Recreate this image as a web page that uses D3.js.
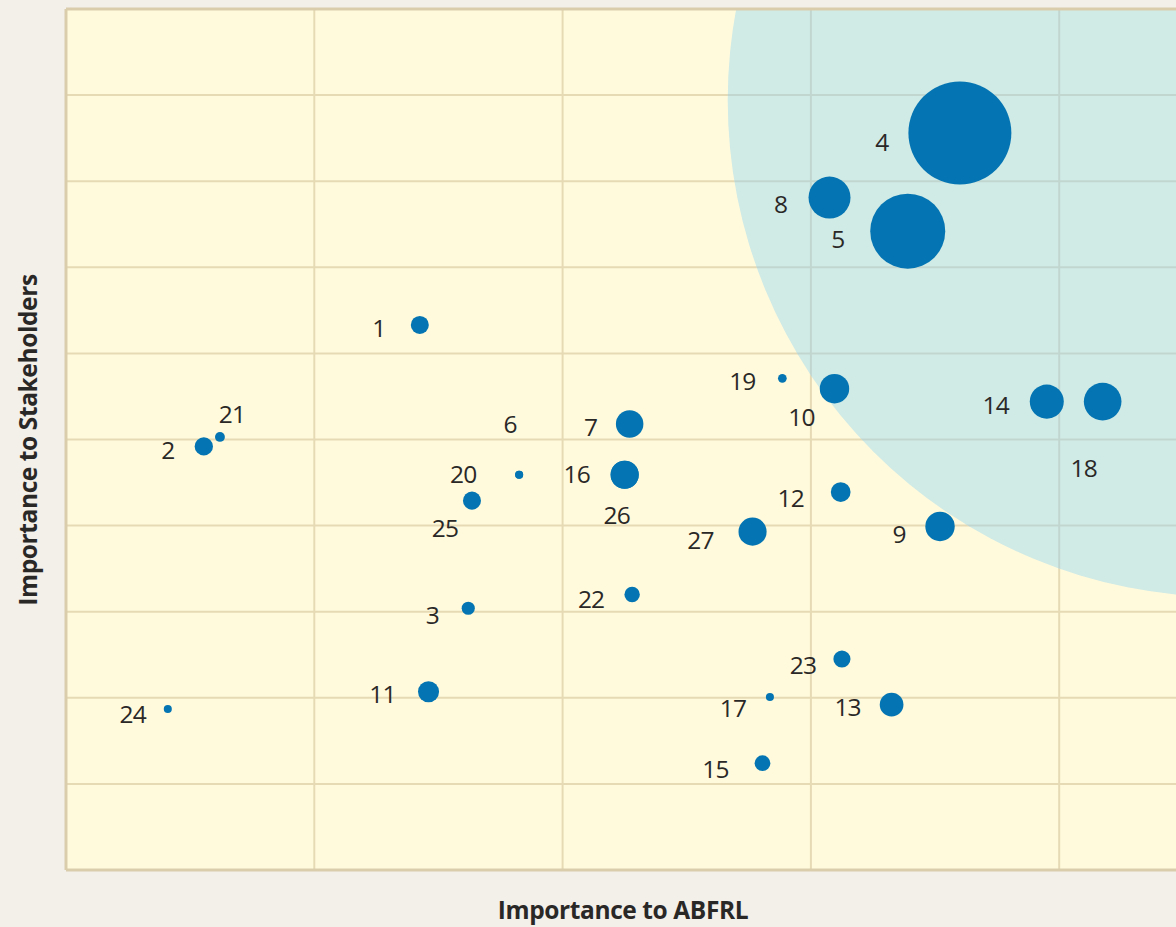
<!DOCTYPE html>
<html>
<head>
<meta charset="utf-8">
<script src="https://cdn.jsdelivr.net/npm/d3@7/dist/d3.min.js"></script>
<style>
  html, body { margin: 0; padding: 0; background: #f3efe9; }
  svg { display: block; }
</style>
</head>
<body>
<svg id="chart" width="1176" height="927"></svg>
<script>
// Material issues: id, importance to ABFRL (x), importance to stakeholders (y), weight (bubble area)
const issueIds = [1, 2, 3, 4, 5, 6, 7, 8, 9, 10, 11, 12, 13, 14, 15, 16, 17, 18, 19, 20, 21, 22, 23, 24, 25, 26, 27];
const abfrlImportance = [2.85, 1.11, 3.24, 7.20, 6.78, 3.65, 4.54, 6.15, 7.04, 6.19, 2.92, 6.24, 6.65, 7.90, 5.61, 4.50, 5.67, 8.35, 5.77, 3.65, 1.24, 4.56, 6.25, 0.82, 3.27, 4.50, 5.53];
const stakeholderImportance = [6.33, 4.92, 3.04, 8.56, 7.42, 4.59, 5.18, 7.81, 3.99, 5.59, 2.07, 4.39, 1.92, 5.44, 1.24, 4.59, 2.01, 5.44, 5.71, 4.59, 5.03, 3.20, 2.45, 1.87, 4.29, 4.59, 3.93];
const issueWeight = [3.0, 3.1, 1.6, 98, 52, 0.6, 7.0, 16.3, 8.0, 8.0, 4.1, 3.6, 5.2, 10.7, 2.3, 7.3, 0.6, 13.1, 0.7, 0.6, 0.9, 2.2, 2.7, 0.6, 3.0, 7.3, 7.3];

// Priority zone (in axis units)
const zoneCenterX = 9.33;
const zoneCenterY = 8.94;
const zoneRadiusX = 4.0;

// Label placement relative to each bubble centre (px)
const labelNudge = {
  1: [-41, 3], 2: [-36, 4], 3: [-36, 7], 4: [-78, 9], 5: [-70, 8], 6: [-9, -50],
  7: [-39, 3], 8: [-49, 7], 9: [-41, 8], 10: [-33, 29], 11: [-46, 3], 12: [-50, 6],
  13: [-44, 3], 14: [-51, 4], 15: [-47, 6], 16: [-48, 0], 17: [-37, 11], 18: [-19, 67],
  19: [-40, 3], 20: [-56, 0], 21: [12, -22], 22: [-41, 5], 23: [-39, 6], 24: [-35, 5],
  25: [-27, 28], 26: [-8, 41], 27: [-52, 9]
};

const issues = issueIds.map((id, i) => ({
  id, x: abfrlImportance[i], y: stakeholderImportance[i], w: issueWeight[i]
}));

const svg = d3.select("#chart");
const W = 1176, H = 927;

const x = d3.scaleLinear().domain([0, 10]).range([66, 1307.5]);
const y = d3.scaleLinear().domain([0, 10]).range([870, 9]);
const r = d3.scaleSqrt().domain([0, 100]).range([0, 52]);

svg.append("rect").attr("width", W).attr("height", H).attr("fill", "#f3efe9");

const defs = svg.append("defs");
defs.append("clipPath").attr("id", "plotClip")
  .append("rect")
  .attr("x", x(0)).attr("y", y(10))
  .attr("width", x(10) - x(0)).attr("height", y(0) - y(10));

const zr = x(zoneCenterX + zoneRadiusX) - x(zoneCenterX);
defs.append("clipPath").attr("id", "zoneClip")
  .append("circle")
  .attr("cx", x(zoneCenterX)).attr("cy", y(zoneCenterY)).attr("r", zr);

const plot = svg.append("g").attr("clip-path", "url(#plotClip)");

plot.append("rect")
  .attr("x", x(0)).attr("y", y(10))
  .attr("width", x(10) - x(0)).attr("height", y(0) - y(10))
  .attr("fill", "#fffadc");

function drawGrid(g, color) {
  g.selectAll("line.vx").data(x.ticks(5)).join("line")
    .attr("class", "vx")
    .attr("x1", d => x(d)).attr("x2", d => x(d))
    .attr("y1", y(10)).attr("y2", y(0))
    .attr("stroke", color).attr("stroke-width", 2);
  g.selectAll("line.hy").data(y.ticks(10)).join("line")
    .attr("class", "hy")
    .attr("x1", x(0)).attr("x2", x(10))
    .attr("y1", d => y(d)).attr("y2", d => y(d))
    .attr("stroke", color).attr("stroke-width", 2);
}

drawGrid(plot.append("g"), "#e6dab4");

plot.append("circle")
  .attr("cx", x(zoneCenterX)).attr("cy", y(zoneCenterY)).attr("r", zr)
  .attr("fill", "#d0eae6");

drawGrid(plot.append("g").attr("clip-path", "url(#zoneClip)"), "#c2d6d0");

// Frame: left, top and bottom edges
const frame = svg.append("g").attr("stroke", "#dacdab").attr("stroke-width", 3).attr("fill", "none");
frame.append("line").attr("x1", x(0)).attr("x2", x(0)).attr("y1", y(10)).attr("y2", y(0));
frame.append("line").attr("x1", x(0)).attr("x2", W).attr("y1", y(10)).attr("y2", y(10));
frame.append("line").attr("x1", x(0)).attr("x2", W).attr("y1", y(0)).attr("y2", y(0));

// Bubbles, largest first so small ones stay on top
const bubbles = svg.append("g");
bubbles.selectAll("circle")
  .data(issues.slice().sort((a, b) => b.w - a.w))
  .join("circle")
  .attr("cx", d => x(d.x)).attr("cy", d => y(d.y)).attr("r", d => r(d.w))
  .attr("fill", "#0475b2");

const labels = svg.append("g")
  .attr("font-family", "'Open Sans', 'Noto Sans', sans-serif")
  .attr("font-size", 24.5)
  .attr("fill", "#2a2827")
  .attr("text-anchor", "middle");
labels.selectAll("text")
  .data(issues)
  .join("text")
  .attr("x", d => x(d.x) + labelNudge[d.id][0])
  .attr("y", d => y(d.y) + labelNudge[d.id][1])
  .attr("dy", "0.35em")
  .attr("letter-spacing", -0.8)
  .text(d => d.id);

// Axis titles
svg.append("text")
  .attr("x", 623).attr("y", 910)
  .attr("dy", "0.35em")
  .attr("text-anchor", "middle")
  .attr("font-family", "'Open Sans', sans-serif")
  .attr("font-weight", 700)
  .attr("font-size", 24.5)
  .attr("letter-spacing", -0.4)
  .attr("fill", "#2a2827")
  .text("Importance to ABFRL");

svg.append("text")
  .attr("transform", "translate(28,440) rotate(-90)")
  .attr("dy", "0.35em")
  .attr("text-anchor", "middle")
  .attr("font-family", "'Open Sans', sans-serif")
  .attr("font-weight", 700)
  .attr("font-size", 24.5)
  .attr("letter-spacing", -0.4)
  .attr("fill", "#2a2827")
  .text("Importance to Stakeholders");
</script>
</body>
</html>
